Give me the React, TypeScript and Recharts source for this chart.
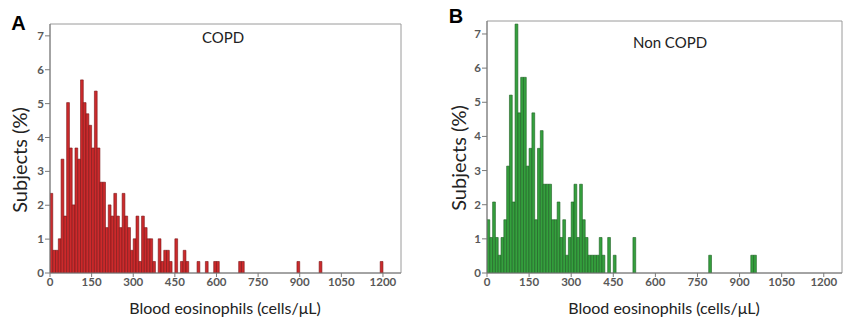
import { Bar, BarChart, ReferenceArea, XAxis, YAxis } from "recharts";

const xTicks = [0, 150, 300, 450, 600, 750, 900, 1050, 1200];
const yTicks = [0, 1, 2, 3, 4, 5, 6, 7];
const binWidth = 10;
const xMax = 1265;

// COPD: % of subjects per 10 cells/µL bin, starting at 0
const copdPct = [
  2.35, 0.67, 0.67, 1.01, 3.36, 1.68, 5.03, 3.69, 2.01, 3.69,
  3.36, 5.7, 5.03, 4.7, 4.36, 3.69, 5.37, 3.69, 2.68, 2.68,
  1.34, 2.01, 1.68, 2.35, 1.68, 1.34, 2.35, 1.68, 1.34, 0.67,
  1.01, 1.68, 0.34, 1.68, 1.34, 1.01, 1.01, 0.34, 0, 1.01,
  0.34, 0.67, 0.67, 0.34, 0, 1.01, 0, 0.34, 0.67, 0.34,
];
const copdTailBins = [530, 560, 590, 600, 680, 690, 890, 970, 1190];
const copdTailPct = [0.34, 0.34, 0.34, 0.34, 0.34, 0.34, 0.34, 0.34, 0.34];

// Non COPD
const nonCopdPct = [
  1.56, 1.04, 2.08, 1.04, 0.52, 1.04, 1.56, 3.13, 5.21, 2.08,
  7.29, 4.69, 5.73, 5.73, 3.13, 3.65, 4.69, 1.56, 3.65, 4.17,
  2.6, 2.6, 2.6, 1.56, 1.56, 2.08, 1.04, 1.56, 0.52, 1.04,
  2.08, 2.6, 1.04, 2.6, 1.56, 1.04, 0.52, 0.52, 0.52, 0.52,
  1.04, 0.52, 0, 1.04, 0, 0.52,
];
const nonCopdTailBins = [520, 790, 940, 950];
const nonCopdTailPct = [1.04, 0.52, 0.52, 0.52];

type Row = { x: number; pct: number };

function toRows(main: number[], tailBins: number[], tailPct: number[]): Row[] {
  const rows = main.map((pct, i) => ({ x: i * binWidth + binWidth / 2, pct }));
  tailBins.forEach((b, i) => rows.push({ x: b + binWidth / 2, pct: tailPct[i] }));
  return rows.filter((r) => r.pct > 0);
}

const copdRows = toRows(copdPct, copdTailBins, copdTailPct);
const nonCopdRows = toRows(nonCopdPct, nonCopdTailBins, nonCopdTailPct);

const tickStyle = {
  fill: "#585858",
  fontSize: 11.5,
  fontWeight: 700,
  fontFamily: "Lato, sans-serif",
};

const axisColor = "#7a7a7a";

function Histogram(props: {
  data: Row[];
  width: number;
  height: number;
  top: number;
  right: number;
  yAxisWidth: number;
  yMax: number;
  fill: string;
  stroke: string;
}) {
  const { data, width, height, top, right, yAxisWidth, yMax, fill, stroke } = props;
  const plotW = width - right - yAxisWidth;
  const barSize = (binWidth * plotW) / xMax - 0.01;

  return (
    <BarChart
      width={width}
      height={height}
      data={data}
      margin={{ top, right, left: 0, bottom: 0 }}
    >
      <XAxis
        type="number"
        dataKey="x"
        domain={[0, xMax]}
        ticks={xTicks}
        interval={0}
        height={53}
        tick={tickStyle}
        tickSize={4}
        tickMargin={1}
        stroke={axisColor}
        allowDataOverflow
      />
      <YAxis
        domain={[0, yMax]}
        ticks={yTicks}
        interval={0}
        width={yAxisWidth}
        tick={tickStyle}
        tickSize={5}
        tickMargin={1}
        stroke={axisColor}
        allowDataOverflow
      />
      <ReferenceArea
        x1={0}
        x2={xMax}
        y1={0}
        y2={yMax}
        fill="none"
        stroke="#9a9a9a"
        strokeWidth={1}
      />
      <Bar
        dataKey="pct"
        fill={fill}
        stroke={stroke}
        strokeWidth={0.6}
        barSize={barSize}
        isAnimationActive={false}
      />
    </BarChart>
  );
}

const textFont = "Lato, sans-serif";
const letterFont = "Liberation Sans, Arial, sans-serif";

export default function App() {
  return (
    <div
      style={{
        position: "absolute",
        left: 0,
        top: 0,
        width: 850,
        height: 326,
        background: "#fff",
        fontFamily: textFont,
        overflow: "hidden",
      }}
    >
      <div style={{ position: "absolute", left: 0, top: 0 }}>
        <Histogram
          data={copdRows}
          width={420}
          height={326}
          top={24}
          right={19}
          yAxisWidth={50}
          yMax={7.35}
          fill="#cc2a2c"
          stroke="#781416"
        />
      </div>
      <div style={{ position: "absolute", left: 440, top: 0 }}>
        <Histogram
          data={nonCopdRows}
          width={410}
          height={326}
          top={21}
          right={8}
          yAxisWidth={47}
          yMax={7.38}
          fill="#35a03e"
          stroke="#1c5e22"
        />
      </div>

      {/* panel letters */}
      <div style={{ position: "absolute", left: 18.5, top: 22.5, transform: "translate(-50%,-50%)", fontFamily: letterFont, fontWeight: 700, fontSize: 20, lineHeight: 1 }}>A</div>
      <div style={{ position: "absolute", left: 456, top: 15.5, transform: "translate(-50%,-50%)", fontFamily: letterFont, fontWeight: 700, fontSize: 20, lineHeight: 1 }}>B</div>

      {/* group labels */}
      <div style={{ position: "absolute", left: 223, top: 37, transform: "translate(-50%,-50%)", fontSize: 15, lineHeight: 1, color: "#222", whiteSpace: "nowrap" }}>COPD</div>
      <div style={{ position: "absolute", left: 670, top: 42, transform: "translate(-50%,-50%)", fontSize: 15, lineHeight: 1, color: "#222", whiteSpace: "nowrap" }}>Non COPD</div>

      {/* axis titles */}
      <div style={{ position: "absolute", left: 18.5, top: 160, transform: "translate(-50%,-50%) rotate(-90deg)", fontSize: 20, lineHeight: 1, color: "#222", whiteSpace: "nowrap" }}>Subjects (%)</div>
      <div style={{ position: "absolute", left: 458, top: 158, transform: "translate(-50%,-50%) rotate(-90deg)", fontSize: 20, lineHeight: 1, color: "#222", whiteSpace: "nowrap" }}>Subjects (%)</div>
      <div style={{ position: "absolute", left: 225, top: 308, transform: "translate(-50%,-50%)", fontSize: 16, lineHeight: 1, color: "#222", whiteSpace: "nowrap" }}>Blood eosinophils (cells/μL)</div>
      <div style={{ position: "absolute", left: 664, top: 308, transform: "translate(-50%,-50%)", fontSize: 16, lineHeight: 1, color: "#222", whiteSpace: "nowrap" }}>Blood eosinophils (cells/μL)</div>
    </div>
  );
}
